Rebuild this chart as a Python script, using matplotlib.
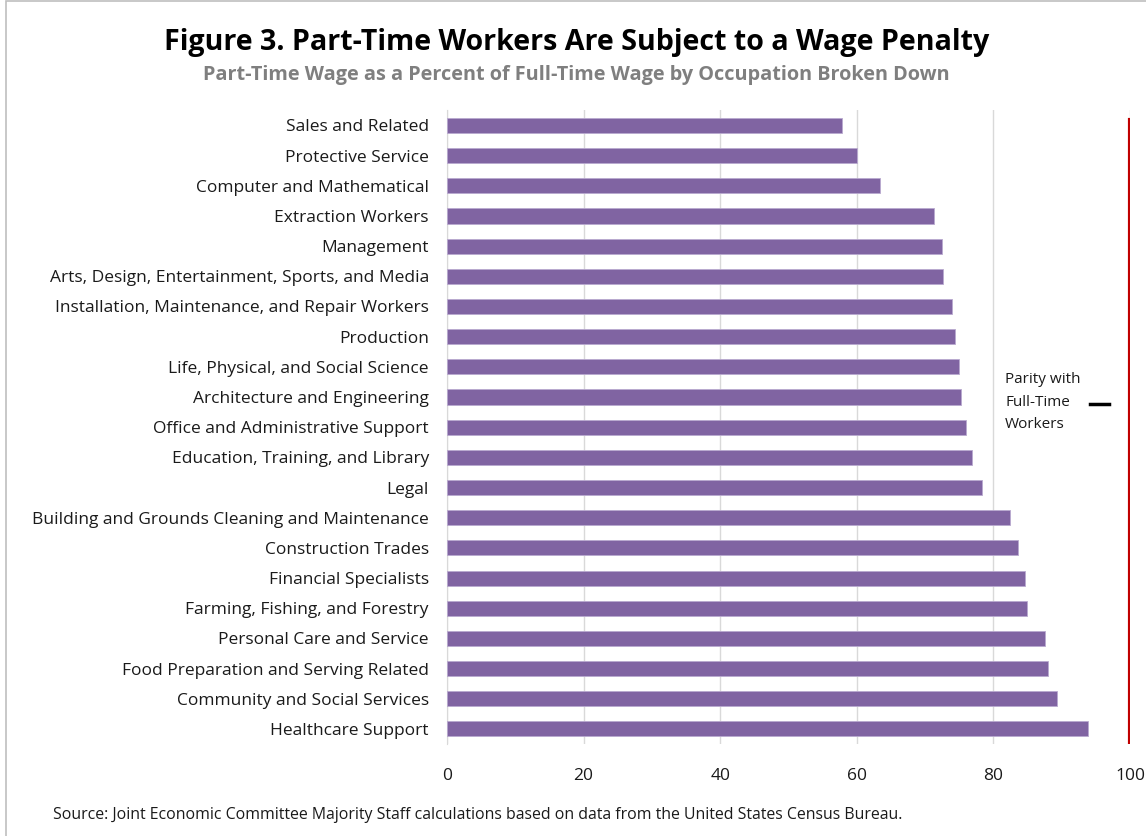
import matplotlib
matplotlib.use("Agg")
import matplotlib.pyplot as plt
from matplotlib.patches import Rectangle
from matplotlib.lines import Line2D

occupations = [
    "Sales and Related",
    "Protective Service",
    "Computer and Mathematical",
    "Extraction Workers",
    "Management",
    "Arts, Design, Entertainment, Sports, and Media",
    "Installation, Maintenance, and Repair Workers",
    "Production",
    "Life, Physical, and Social Science",
    "Architecture and Engineering",
    "Office and Administrative Support",
    "Education, Training, and Library",
    "Legal",
    "Building and Grounds Cleaning and Maintenance",
    "Construction Trades",
    "Financial Specialists",
    "Farming, Fishing, and Forestry",
    "Personal Care and Service",
    "Food Preparation and Serving Related",
    "Community and Social Services",
    "Healthcare Support",
]
pct_of_full_time = [
    57.9, 60.1, 63.4, 71.3, 72.5, 72.6, 73.9, 74.4, 75.0, 75.3, 76.0,
    76.9, 78.4, 82.5, 83.6, 84.7, 84.9, 87.6, 88.0, 89.3, 93.9,
]
x_ticks = [0, 20, 40, 60, 80, 100]
parity = 100

FONT = ["Open Sans", "DejaVu Sans"]
plt.rcParams["font.family"] = FONT

fig = plt.figure(figsize=(11.46, 8.36), dpi=100)
ax = fig.add_axes([0.390, 0.110, 0.596, 0.758])

y = list(range(len(occupations)))
ax.barh(y, pct_of_full_time, height=0.5, color="#8064a2",
        edgecolor="#b9a9cf", linewidth=0.6, zorder=3)
ax.axvline(parity, ymin=0.0, ymax=0.985, color="#c00000", lw=3, zorder=4)

ax.set_xlim(0, 100)
ax.set_ylim(len(occupations) - 0.5, -0.5)
ax.set_yticks(y)
ax.set_yticklabels(occupations, fontsize=12.5, color="#1a1a1a")
ax.set_xticks(x_ticks)
ax.set_xticklabels([str(t) for t in x_ticks], fontsize=12.5, color="#1a1a1a")
ax.tick_params(axis="y", length=0, pad=13)
ax.tick_params(axis="x", length=0, pad=17)
ax.grid(axis="x", color="#d9d9d9", lw=1, zorder=0)
for side in ("top", "right", "bottom"):
    ax.spines[side].set_visible(False)
ax.spines["left"].set_color("#d9d9d9")

# legend-like annotation for the parity line
fig.text(0.877, 0.519, "Parity with\nFull-Time\nWorkers", fontsize=11,
         color="#1a1a1a", va="center", ha="left", linespacing=1.65)
fig.add_artist(Line2D([0.951, 0.968], [0.517, 0.517], color="black", lw=2.5))

fig.text(0.503, 0.949, "Figure 3. Part-Time Workers Are Subject to a Wage Penalty",
         ha="center", va="center", fontsize=20.6, fontweight="bold", color="black")
fig.text(0.503, 0.910, "Part-Time Wage as a Percent of Full-Time Wage by Occupation Broken Down",
         ha="center", va="center", fontsize=14.3, fontweight="bold", color="#7f7f7f")
fig.text(0.046, 0.025,
         "Source: Joint Economic Committee Majority Staff calculations based on data from the United States Census Bureau.",
         ha="left", va="center", fontsize=11.4, color="#1a1a1a")

fig.add_artist(Rectangle((0.005, -0.01), 1.1, 1.009, transform=fig.transFigure,
                         fill=False, edgecolor="#bfbfbf", lw=1.2))

fig.savefig("out.png", dpi=100)
